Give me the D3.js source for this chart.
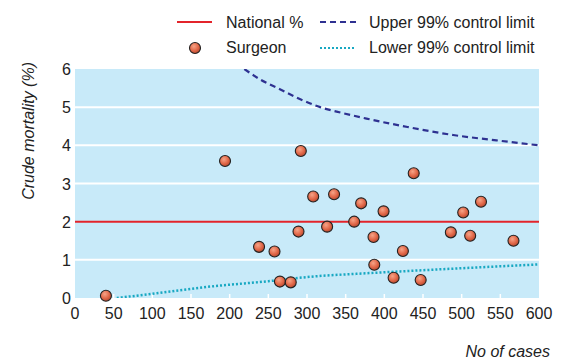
<!DOCTYPE html>
<html><head><meta charset="utf-8">
<script src="https://cdn.jsdelivr.net/npm/d3@7"></script>
<style>body{margin:0;background:#fff}svg{display:block;font-family:"Liberation Sans",Arial,sans-serif}</style>
</head><body><svg id="c" width="563" height="361"></svg>
<script>
const xTicks=[0,50,100,150,200,250,300,350,400,450,500,550,600];
const yTicks=[0,1,2,3,4,5,6];
const nationalPct=2;
const surgeonCases=[40,194,292,238,258,289,265,279,308,335,326,361,370,386,387,399,412,424,438,447,486,502,511,525,567];
const surgeonMortality=[0.06,3.59,3.85,1.34,1.22,1.74,0.43,0.41,2.66,2.72,1.87,2.0,2.48,1.6,0.87,2.27,0.53,1.23,3.27,0.47,1.72,2.24,1.63,2.52,1.5];
const upperCases=[219,239,265,290,317,345,377,430,489,545,600];
const upperLimit=[6.0,5.73,5.47,5.22,5.0,4.85,4.7,4.48,4.27,4.13,4.0];
const lowerCases=[54,100,166,250,312,370,433,520,600];
const lowerLimit=[0,0.11,0.28,0.44,0.57,0.64,0.71,0.8,0.88];

const svg=d3.select("#c");
const x=d3.scaleLinear().domain([0,600]).range([75,539]);
const y=d3.scaleLinear().domain([0,6]).range([298,69]);

const defs=svg.append("defs");
const rg=defs.append("radialGradient").attr("id","ball").attr("cx","40%").attr("cy","35%").attr("r","65%");
rg.append("stop").attr("offset","0%").attr("stop-color","#f6a488");
rg.append("stop").attr("offset","60%").attr("stop-color","#e2694a");
rg.append("stop").attr("offset","100%").attr("stop-color","#b84a30");
defs.append("clipPath").attr("id","plot").append("rect").attr("x",75).attr("y",69).attr("width",464).attr("height",229);

svg.append("rect").attr("x",x(0)).attr("y",y(6)).attr("width",x(600)-x(0)).attr("height",y(0)-y(6)).attr("fill","#c8eaf9");
svg.append("g").selectAll("line").data(yTicks.filter(d=>d>0&&d<6&&d!==nationalPct)).join("line")
 .attr("x1",x(0)).attr("x2",x(600)).attr("y1",d=>y(d)).attr("y2",d=>y(d)).attr("stroke","#fff").attr("stroke-width",2);
svg.append("g").selectAll("line").data(xTicks.filter(d=>d>0&&d<600)).join("line")
 .attr("x1",d=>x(d)).attr("x2",d=>x(d)).attr("y1",y(0)).attr("y2",y(0)-4).attr("stroke","#fff").attr("stroke-width",1.5);

svg.append("line").attr("x1",x(0)).attr("x2",x(600)).attr("y1",y(nationalPct)).attr("y2",y(nationalPct)).attr("stroke","#e3242b").attr("stroke-width",2);

const g=svg.append("g").attr("clip-path","url(#plot)");
const line=d3.line().curve(d3.curveMonotoneX);
g.append("path").attr("d",line(upperCases.map((c,i)=>[x(c),y(upperLimit[i])])))
 .attr("fill","none").attr("stroke","#2e3191").attr("stroke-width",2.2).attr("stroke-dasharray","6,4");
g.append("path").attr("d",line(lowerCases.map((c,i)=>[x(c),y(lowerLimit[i])])))
 .attr("fill","none").attr("stroke","#18a8c2").attr("stroke-width",2.5).attr("stroke-dasharray","2,2");

svg.append("g").selectAll("circle").data(surgeonCases).join("circle")
 .attr("cx",d=>x(d)).attr("cy",(d,i)=>y(surgeonMortality[i])).attr("r",5.5)
 .attr("fill","url(#ball)").attr("stroke","#222").attr("stroke-width",1.1);

svg.append("g").selectAll("text").data(xTicks).join("text")
 .attr("x",d=>x(d)).attr("y",319).attr("text-anchor","middle").attr("font-size",16).attr("fill","#222").text(d=>d);
svg.append("g").selectAll("text").data(yTicks).join("text")
 .attr("x",71).attr("y",d=>y(d)+6).attr("text-anchor","end").attr("font-size",16).attr("fill","#222").text(d=>d);

svg.append("text").attr("transform","translate(34,62) rotate(-90)").attr("text-anchor","end")
 .attr("font-size",16).attr("font-style","italic").attr("fill","#222").text("Crude mortality (%)");
svg.append("text").attr("x",550).attr("y",357).attr("text-anchor","end")
 .attr("font-size",16).attr("font-style","italic").attr("fill","#222").text("No of cases");

const L=svg.append("g").attr("font-size",16).attr("fill","#222");
L.append("line").attr("x1",177).attr("x2",212).attr("y1",22).attr("y2",22).attr("stroke","#e3242b").attr("stroke-width",2);
L.append("text").attr("x",226).attr("y",28).text("National %");
L.append("circle").attr("cx",195).attr("cy",48).attr("r",5.5).attr("fill","url(#ball)").attr("stroke","#222").attr("stroke-width",1.1);
L.append("text").attr("x",226).attr("y",53).text("Surgeon");
L.append("line").attr("x1",320).attr("x2",356).attr("y1",22).attr("y2",22).attr("stroke","#2e3191").attr("stroke-width",2).attr("stroke-dasharray","6,4");
L.append("text").attr("x",369).attr("y",28).text("Upper 99% control limit");
L.append("line").attr("x1",320).attr("x2",356).attr("y1",48).attr("y2",48).attr("stroke","#18a8c2").attr("stroke-width",2).attr("stroke-dasharray","2,2");
L.append("text").attr("x",369).attr("y",53).text("Lower 99% control limit");
</script></body></html>
